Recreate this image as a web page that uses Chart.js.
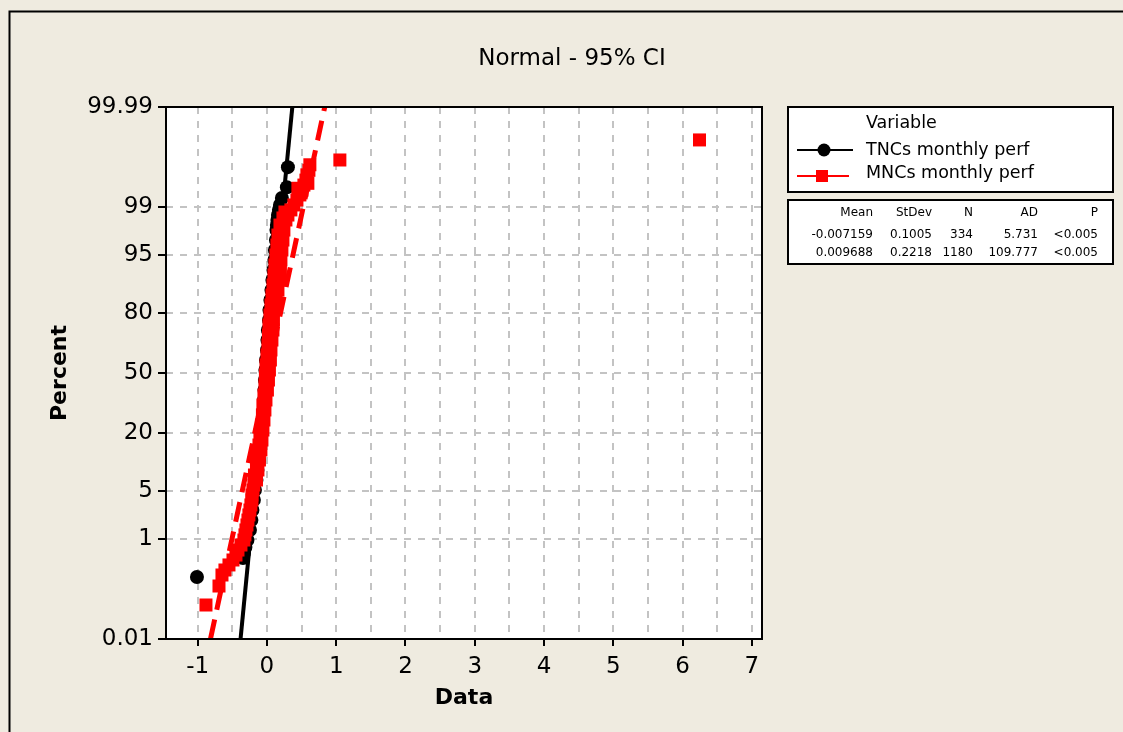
<!DOCTYPE html>
<html>
<head>
<meta charset="utf-8">
<title>Probability Plot of TNCs, MNCs monthly perf</title>
<script src="https://cdn.jsdelivr.net/npm/chart.js@4.4.1/dist/chart.umd.min.js"></script>
<style>
  html, body { margin: 0; padding: 0; background: #EFEBE0; }
  #wrap { width: 1123px; height: 732px; position: relative; }
</style>
</head>
<body>
<div id="wrap"><canvas id="probPlot"></canvas></div>
<script>
// Percent axis (normal probability scale) and data axis labels
const percentTicks = [0.01, 1, 5, 20, 50, 80, 95, 99, 99.99];
const xTickValues = [-1, 0, 1, 2, 3, 4, 5, 6, 7];

// TNCs monthly perf: data value / plotted percent
const tncData = [0.303, 0.288, 0.216, 0.188, 0.173, 0.159, 0.151, 0.144, 0.137, 0.130,
  0.115, 0.108, 0.094, 0.079, 0.065, 0.050, 0.036, 0.029, 0.014, 0.007,
  0.000, -0.014, -0.022, -0.029, -0.036, -0.043, -0.050, -0.058, -0.072, -0.087,
  -0.101, -0.115, -0.137, -0.151, -0.173, -0.188, -0.209, -0.224, -0.245, -0.281,
  -0.310, -0.332, -0.346, -1.010];
const tncPercent = [99.80, 99.53, 99.28, 99.06, 98.87, 98.64, 98.38, 98.07, 97.72, 96.85,
  95.73, 94.29, 92.51, 90.32, 87.70, 84.64, 81.08, 77.07, 72.61, 67.76,
  62.63, 57.22, 51.68, 46.10, 40.59, 35.31, 30.26, 25.56, 21.27, 17.44,
  14.10, 11.20, 8.76, 6.73, 5.09, 3.80, 2.77, 1.99, 1.41, 0.977,
  0.749, 0.593, 0.486, 0.217];

// MNCs monthly perf: data value / plotted percent
const mncData = [6.245, 1.053, 0.620, 0.606, 0.577, 0.563, 0.591, 0.534, 0.447, 0.505,
  0.476, 0.433, 0.389, 0.346, 0.260, 0.303, 0.231, 0.274, 0.188, 0.245,
  0.159, 0.231, 0.144, 0.216, 0.130, 0.202, 0.115, 0.195, 0.101, 0.188,
  0.087, 0.159, 0.072, 0.130, 0.058, 0.101, 0.043, 0.094, 0.029, 0.087,
  0.022, 0.072, 0.014, 0.058, 0.000, 0.050, -0.014, 0.036, -0.022, 0.022,
  -0.029, 0.007, -0.043, -0.014, -0.058, -0.029, -0.065, -0.043, -0.079, -0.058,
  -0.101, -0.072, -0.115, -0.087, -0.137, -0.108, -0.151, -0.130, -0.180, -0.151,
  -0.188, -0.202, -0.216, -0.216, -0.231, -0.245, -0.260, -0.274, -0.288, -0.303,
  -0.317, -0.332, -0.375, -0.418, -0.447, -0.490, -0.548, -0.606, -0.649, -0.692,
  -0.880];
const mncPercent = [99.944, 99.855, 99.82, 99.77, 99.72, 99.65, 99.60, 99.57, 99.51, 99.47,
  99.36, 99.22, 99.06, 98.87, 98.78, 98.64, 98.49, 98.38, 98.07, 97.72,
  97.31, 96.85, 96.32, 95.73, 95.05, 94.29, 93.45, 92.51, 91.47, 90.32,
  89.07, 87.70, 86.21, 84.64, 82.92, 81.08, 79.13, 77.07, 74.89, 72.61,
  70.23, 67.76, 65.21, 62.63, 59.95, 57.22, 54.46, 51.68, 48.88, 46.10,
  43.33, 40.59, 37.90, 35.31, 32.74, 30.26, 27.86, 25.56, 23.36, 21.27,
  19.30, 17.44, 15.70, 14.10, 12.59, 11.20, 9.92, 8.76, 7.69, 6.73,
  5.87, 5.09, 4.40, 3.80, 3.25, 2.77, 2.36, 1.99, 1.68, 1.41,
  1.18, 0.977, 0.809, 0.666, 0.546, 0.447, 0.364, 0.294, 0.237, 0.145,
  0.059];

// Summary table
const seriesNames = ['TNCs monthly perf', 'MNCs monthly perf'];
const statHeaders = ['Mean', 'StDev', 'N', 'AD', 'P'];
const fitMean = [-0.007159, 0.009688];
const fitStDev = [0.1005, 0.2218];
const sampleN = [334, 1180];
const adStat = [5.731, 109.777];
const pValue = ['<0.005', '<0.005'];

const FONT = 'DejaVu Sans';
const BG = '#EFEBE0';

// inverse normal cdf (Acklam)
function probit(p) {
  const a = [-3.969683028665376e+01, 2.209460984245205e+02, -2.759285104469687e+02, 1.383577518672690e+02, -3.066479806614716e+01, 2.506628277459239e+00];
  const b = [-5.447609879822406e+01, 1.615858368580409e+02, -1.556989798598866e+02, 6.680131188771972e+01, -1.328068155288572e+01];
  const c = [-7.784894002430293e-03, -3.223964580411365e-01, -2.400758277161838e+00, -2.549732539343734e+00, 4.374664141464968e+00, 2.938163982698783e+00];
  const d = [7.784695709041462e-03, 3.224671290700398e-01, 2.445134137142996e+00, 3.754408661907416e+00];
  const lo = 0.02425;
  let q, r;
  if (p < lo) {
    q = Math.sqrt(-2 * Math.log(p));
    return (((((c[0]*q+c[1])*q+c[2])*q+c[3])*q+c[4])*q+c[5]) / ((((d[0]*q+d[1])*q+d[2])*q+d[3])*q+1);
  }
  if (p > 1 - lo) {
    q = Math.sqrt(-2 * Math.log(1 - p));
    return -(((((c[0]*q+c[1])*q+c[2])*q+c[3])*q+c[4])*q+c[5]) / ((((d[0]*q+d[1])*q+d[2])*q+d[3])*q+1);
  }
  q = p - 0.5; r = q * q;
  return (((((a[0]*r+a[1])*r+a[2])*r+a[3])*r+a[4])*r+a[5])*q / (((((b[0]*r+b[1])*r+b[2])*r+b[3])*r+b[4])*r+1);
}

const zLow = probit(percentTicks[0] / 100);
const zHigh = probit(percentTicks[percentTicks.length - 1] / 100);

const toPoints = (xs, ps) => xs.map((v, i) => ({ x: v, y: probit(ps[i] / 100) }));
// fitted normal line: x = mean + sd * z
const fitLine = i => [
  { x: fitMean[i] + fitStDev[i] * zLow, y: zLow },
  { x: fitMean[i] + fitStDev[i] * zHigh, y: zHigh }
];

const xGridValues = [];
for (let v = xTickValues[0]; v <= xTickValues[xTickValues.length - 1]; v += 0.5) xGridValues.push(v);

// Background, frame, title, legend and stats table
const framePlugin = {
  id: 'frame',
  beforeDraw(chart) {
    const { ctx, chartArea: a } = chart;
    ctx.save();
    ctx.fillStyle = BG;
    ctx.fillRect(0, 0, chart.width, chart.height);
    ctx.fillStyle = '#fff';
    ctx.fillRect(a.left, a.top, a.right - a.left, a.bottom - a.top);
    ctx.restore();
  },
  afterDraw(chart) {
    const { ctx, chartArea: a } = chart;
    const ds = chart.data.datasets;
    ctx.save();
    ctx.strokeStyle = '#000';
    ctx.lineWidth = 2;
    ctx.strokeRect(a.left, a.top, a.right - a.left, a.bottom - a.top);
    // outer frame
    ctx.strokeRect(9.5, 11.5, 1200, 800);

    ctx.fillStyle = '#000';
    ctx.textBaseline = 'middle';
    ctx.textAlign = 'center';
    ctx.font = '23px "' + FONT + '"';
    ctx.fillText('Normal - 95% CI', 572, 59);

    // legend
    ctx.fillStyle = '#fff';
    ctx.fillRect(788, 107, 325, 85);
    ctx.strokeRect(788, 107, 325, 85);
    ctx.fillStyle = '#000';
    ctx.textAlign = 'left';
    ctx.font = '17.5px "' + FONT + '"';
    ctx.fillText('Variable', 866, 123);

    const tnc = ds[0], mnc = ds[2];
    ctx.lineWidth = 2;
    ctx.strokeStyle = tnc.backgroundColor;
    ctx.beginPath(); ctx.moveTo(797, 150); ctx.lineTo(853, 150); ctx.stroke();
    ctx.fillStyle = tnc.backgroundColor;
    ctx.beginPath(); ctx.arc(824, 150, 6.5, 0, Math.PI * 2); ctx.fill();
    ctx.fillStyle = '#000';
    ctx.fillText(tnc.label, 866, 150);

    ctx.strokeStyle = mnc.backgroundColor;
    ctx.beginPath(); ctx.moveTo(797, 176); ctx.lineTo(849, 176); ctx.stroke();
    ctx.fillStyle = mnc.backgroundColor;
    ctx.fillRect(816, 170, 12, 12);
    ctx.fillStyle = '#000';
    ctx.fillText(mnc.label, 866, 173);

    // stats table
    ctx.strokeStyle = '#000';
    ctx.fillStyle = '#fff';
    ctx.fillRect(788, 200, 325, 64);
    ctx.strokeRect(788, 200, 325, 64);
    ctx.fillStyle = '#000';
    ctx.textAlign = 'right';
    ctx.font = '12px "' + FONT + '"';
    const colX = [873, 932, 973, 1038, 1098];
    const rowY = [213, 235, 253];
    statHeaders.forEach((h, j) => ctx.fillText(h, colX[j], rowY[0]));
    for (let i = 0; i < 2; i++) {
      const row = [String(fitMean[i]), String(fitStDev[i]), String(sampleN[i]), String(adStat[i]), pValue[i]];
      row.forEach((t, j) => ctx.fillText(t, colX[j], rowY[i + 1]));
    }
    ctx.restore();
  }
};

const tickFont = { family: FONT, size: 23 };
const titleFont = { family: FONT, size: 22, weight: 'bold' };

new Chart(document.getElementById('probPlot'), {
  type: 'scatter',
  data: {
    datasets: [
      { label: seriesNames[0], data: toPoints(tncData, tncPercent), pointStyle: 'circle',
        pointRadius: 7, backgroundColor: '#000000', borderWidth: 0, order: 3 },
      { label: 'TNCs fit', data: fitLine(0), showLine: true, borderColor: '#000000',
        borderWidth: 4, pointRadius: 0, order: 2 },
      { label: seriesNames[1], data: toPoints(mncData, mncPercent), pointStyle: 'rect',
        pointRadius: 9.2, backgroundColor: '#FF0000', borderWidth: 0, order: 1 },
      { label: 'MNCs fit', data: fitLine(1), showLine: true, borderColor: '#FF0000',
        borderWidth: 5, borderDash: [20, 10], pointRadius: 0, order: 0 }
    ]
  },
  options: {
    responsive: true,
    maintainAspectRatio: false,
    animation: false,
    layout: { padding: { left: 0, top: 107, right: 361, bottom: 0 } },
    plugins: { legend: { display: false }, tooltip: { enabled: false } },
    scales: {
      x: {
        type: 'linear', min: -1.457, max: 7.147, bounds: 'data',
        afterBuildTicks: s => { s.ticks = xGridValues.map(v => ({ value: v })); },
        afterFit: s => { s.height = 93; },
        ticks: {
          font: tickFont, color: '#000', padding: 7, maxRotation: 0, autoSkip: false,
          callback: v => Number.isInteger(v) ? String(v) : ''
        },
        grid: {
          color: '#C3C3C3', lineWidth: 2, tickLength: 7, tickWidth: 2,
          tickColor: c => Number.isInteger(c.tick.value) ? '#000' : 'rgba(0,0,0,0)'
        },
        border: { display: false, dash: [7, 7] },
        title: { display: true, text: 'Data', font: titleFont, color: '#000', padding: { top: 0, bottom: 21 } }
      },
      y: {
        type: 'linear', min: zLow, max: zHigh, bounds: 'data',
        afterBuildTicks: s => { s.ticks = percentTicks.map(p => ({ value: probit(p / 100) })); },
        afterFit: s => { s.width = 166; },
        ticks: {
          font: tickFont, color: '#000', padding: 5, autoSkip: false,
          callback: (v, i) => String(percentTicks[i])
        },
        grid: { color: '#C3C3C3', lineWidth: 2, tickLength: 8, tickWidth: 2, tickColor: '#000' },
        border: { display: false, dash: [7, 7] },
        title: { display: true, text: 'Percent', font: titleFont, color: '#000', padding: { top: 47, bottom: 0 } }
      }
    }
  },
  plugins: [framePlugin]
});
</script>
</body>
</html>
